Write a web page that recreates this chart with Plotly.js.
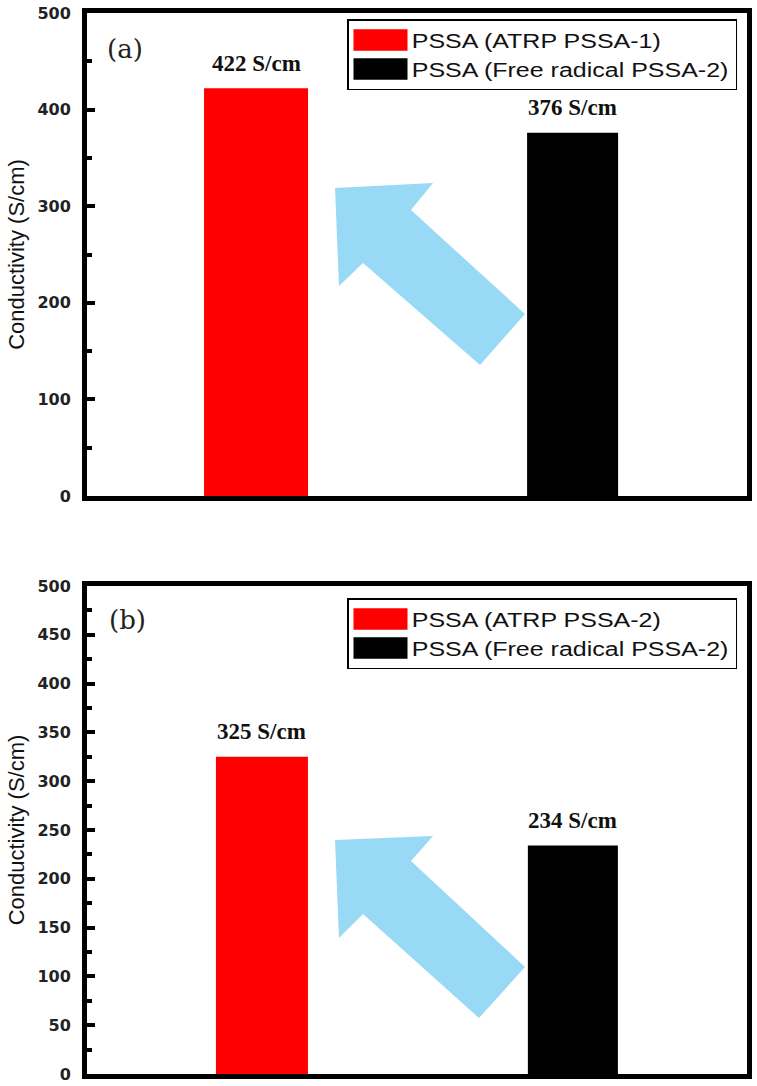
<!DOCTYPE html>
<html>
<head>
<meta charset="utf-8">
<script src="https://cdn.plot.ly/plotly-3.0.1.min.js"></script>
<style>html,body{margin:0;padding:0;background:#fff;}#chart{width:757px;height:1086px;}</style>
</head>
<body>
<div id="chart"></div>
<script>
// ---- data ----
const categories = ['ATRP', 'Free radical'];
const seriesNamesA = ['PSSA (ATRP PSSA-1)', 'PSSA (Free radical PSSA-2)'];
const valuesA = [422, 376];
const seriesNamesB = ['PSSA (ATRP PSSA-2)', 'PSSA (Free radical PSSA-2)'];
const valuesB = [325, 234];
const barColors = ['#ff0000', '#000000'];
const panelLabels = ['(a)', '(b)'];
const unit = ' S/cm';

// ---- geometry helpers (layout only) ----
const W = 757, H = 1086, ML = 87, MR = 10, MT = 13, MB = 12;
const PW = W - ML - MR, PH = H - MT - MB;
const px = x => (x - ML) / PW;
const py = y => (H - MB - y) / PH;

const widthsA = [0.3285, 0.2875];
const widthsB = [0.296, 0.2895];

const traces = [];
[[seriesNamesA, valuesA, widthsA, 'x', 'y', 'legend'], [seriesNamesB, valuesB, widthsB, 'x2', 'y2', 'legend2']].forEach(([names, vals, widths, xa, ya, lg]) => {
  names.forEach((n, i) => {
    traces.push({
      type: 'bar', name: n, x: [categories[i]], y: [vals[i]], width: [widths[i]],
      xaxis: xa, yaxis: ya, legend: lg,
      marker: {color: barColors[i], line: {width: 0}}, hoverinfo: 'skip'
    });
  });
});

const annotations = [];
[[valuesA, 'x', 'y'], [valuesB, 'x2', 'y2']].forEach(([vals, xa, ya]) => {
  vals.forEach((v, i) => {
    annotations.push({
      xref: xa, yref: ya, x: categories[i], y: v, yshift: 25, showarrow: false,
      text: v + unit, xanchor: 'center', yanchor: 'middle',
      font: {family: 'Liberation Serif', size: 23, color: '#111', weight: 'bold'}
    });
  });
});
annotations.push({xref: 'paper', yref: 'paper', x: px(125), y: py(49), text: panelLabels[0], showarrow: false,
  xanchor: 'center', yanchor: 'middle', font: {family: 'DejaVu Serif', size: 26, color: '#222'}});
annotations.push({xref: 'paper', yref: 'paper', x: px(127), y: py(620), text: panelLabels[1], showarrow: false,
  xanchor: 'center', yanchor: 'middle', font: {family: 'DejaVu Serif', size: 26, color: '#222'}});

function arrowPath(pts) {
  return 'M' + pts.map(p => px(p[0]).toFixed(4) + ',' + py(p[1]).toFixed(4)).join(' L') + ' Z';
}
const arrowA = [[335,188],[433,183],[411,210],[525,314],[480,365],[363,263],[339,286]];
const arrowB = [[335,840],[433,836],[411,861],[525,967],[479,1018],[363,914],[339,938]];
const shapes = [arrowA, arrowB].map(a => ({
  type: 'path', xref: 'paper', yref: 'paper', path: arrowPath(a),
  fillcolor: '#98d9f5', line: {width: 0}, layer: 'above'
}));

const yBase = {
  showline: true, linewidth: 5, linecolor: '#000', mirror: true,
  showgrid: false, zeroline: false, ticks: 'inside', ticklen: 8, tickwidth: 4, tickcolor: '#000',
  tickfont: {family: 'DejaVu Sans', size: 16, color: '#222', weight: 'bold'},
  ticklabelstandoff: 8,
  title: {text: 'Conductivity (S/cm)', font: {family: 'Liberation Sans', size: 22, color: '#111'}, standoff: 8},
  fixedrange: true
};
const xBase = {
  type: 'category', categoryorder: 'array', categoryarray: categories,
  showline: true, linewidth: 5, linecolor: '#000', mirror: true,
  showgrid: false, zeroline: false, showticklabels: false, ticks: '', fixedrange: true
};
const legendBase = {
  bgcolor: '#fff', bordercolor: '#000', borderwidth: 1.5,
  font: {family: 'Liberation Sans', size: 20, color: '#111'},
  xanchor: 'right', yanchor: 'top', itemwidth: 40, tracegroupgap: 0
};

const layout = {
  width: W, height: H, margin: {l: ML, r: MR, t: MT, b: MB},
  paper_bgcolor: '#fff', plot_bgcolor: '#fff', showlegend: true,
  barmode: 'overlay',
  xaxis: Object.assign({}, xBase, {domain: [0, 1], range: [-0.534, 1.551], anchor: 'y'}),
  yaxis: Object.assign({}, yBase, {domain: [py(496), 1], range: [0, 500], dtick: 100,
    minor: {ticks: 'inside', ticklen: 5, tickwidth: 4, tickcolor: '#000', dtick: 50}, anchor: 'x'}),
  xaxis2: Object.assign({}, xBase, {domain: [0, 1], range: [-0.5626, 1.560], anchor: 'y2'}),
  yaxis2: Object.assign({}, yBase, {domain: [0, py(586)], range: [0, 500], dtick: 50,
    minor: {ticks: 'inside', ticklen: 5, tickwidth: 4, tickcolor: '#000', dtick: 25}, anchor: 'x2'}),
  legend: Object.assign({}, legendBase, {x: px(737), y: py(19)}),
  legend2: Object.assign({}, legendBase, {x: px(737), y: py(598)}),
  annotations: annotations,
  shapes: shapes
};

const SX = 1.25; // horizontal stretch of the legend to match the reference
Plotly.newPlot('chart', traces, layout, {staticPlot: true, displayModeBar: false}).then(gd => {
  document.querySelectorAll('.legendpoints path').forEach(p => {
    const t = p.getAttribute('transform') || '';
    p.setAttribute('transform', t + ' scale(' + (4.5 / SX) + ',1.8)');
  });
  ['legend', 'legend2'].forEach(id => {
    const g = document.querySelector('g.' + id);
    if (!g) return;
    const t = g.getAttribute('transform') || '';
    const m = t.match(/translate\(\s*([-\d.]+)[ ,]+([-\d.]+)\s*\)/);
    if (!m) return;
    const tx = parseFloat(m[1]), ty = parseFloat(m[2]);
    const bg = g.querySelector('rect.bg');
    const w = bg ? parseFloat(bg.getAttribute('width')) : g.getBBox().width;
    const right = tx + w;
    g.setAttribute('transform', 'translate(' + (right - w * SX) + ',' + ty + ') scale(' + SX + ',1)');
  });
});
</script>
</body>
</html>
